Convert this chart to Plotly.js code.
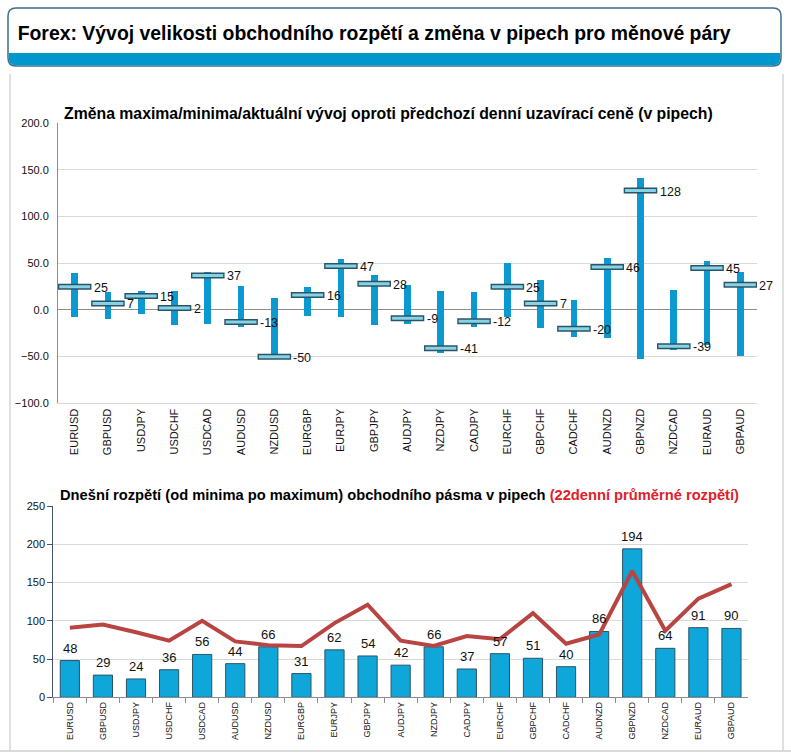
<!DOCTYPE html>
<html>
<head>
<meta charset="utf-8">
<script src="https://cdn.plot.ly/plotly-3.0.1.min.js"></script>
<style>html,body{margin:0;padding:0;background:#fff;}#chart{width:791px;height:753px;}</style>
</head>
<body>
<div id="chart"></div>
<script>
// ---- data ----
const pairs = ["EURUSD","GBPUSD","USDJPY","USDCHF","USDCAD","AUDUSD","NZDUSD","EURGBP","EURJPY","GBPJPY","AUDJPY","NZDJPY","CADJPY","EURCHF","GBPCHF","CADCHF","AUDNZD","GBPNZD","NZDCAD","EURAUD","GBPAUD"];
const dayHigh = [40,19,20,20,41,26,13,25,55,38,27,20,19,50,32,11,56,141,21,53,41];
const dayLow = [-8,-10,-4,-16,-15,-18,-53,-6,-7,-16,-15,-46,-18,-7,-19,-29,-30,-53,-43,-38,-49];
const current = [25,7,15,2,37,-13,-50,16,47,28,-9,-41,-12,25,7,-20,46,128,-39,45,27];
const todayRange = [48,29,24,36,56,44,66,31,62,54,42,66,37,57,51,40,86,194,64,91,90];
const avg22 = [91,95,85,74,100,73,68,67,97,121,74,67,80,76,110,70,82,165,87,129,148];
const topTickVals = [-100,-50,0,50,100,150,200];
const botTickVals = [0,50,100,150,200,250];

const W = 791, H = 753;
const px = v => v / W;           // x pixel -> paper
const py = v => 1 - v / H;       // y pixel -> paper

const font = "Liberation Sans, Arial, sans-serif";

const traces = [
  // range bars (low -> high)
  {type:"bar", x:pairs, y:dayHigh.map((h,i)=>h-dayLow[i]), base:dayLow, width:0.2,
   marker:{color:"#0b99d0"}, xaxis:"x", yaxis:"y", hoverinfo:"skip"},
  // current value caps: dark outline
  {type:"scatter", mode:"markers", x:pairs, y:current, xaxis:"x", yaxis:"y",
   marker:{symbol:"line-ew", size:24, line:{width:6, color:"#2b5566"}}, hoverinfo:"skip"},
  // current value caps: light fill
  {type:"scatter", mode:"markers", x:pairs, y:current, xaxis:"x", yaxis:"y",
   marker:{symbol:"line-ew", size:22, line:{width:3, color:"#86d3e8"}}, hoverinfo:"skip"},
  // today's range bars
  {type:"bar", x:pairs, y:todayRange, xaxis:"x2", yaxis:"y2", width:0.58,
   marker:{color:"#0fa6da", line:{color:"#2a5468", width:1}}, hoverinfo:"skip"},
  // 22-day average line
  {type:"scatter", mode:"lines", x:pairs, y:avg22, xaxis:"x2", yaxis:"y2",
   line:{color:"#b84542", width:4}, hoverinfo:"skip"},
  // anchor for pixel-coordinate decoration axis
  {type:"scatter", mode:"markers", x:[0], y:[0], xaxis:"x3", yaxis:"y3",
   marker:{opacity:0}, hoverinfo:"skip"}
];

const curLabels = pairs.map((p,i)=>({xref:"x", yref:"y", x:p, y:current[i], text:String(current[i]),
  xanchor:"left", yanchor:"middle", xshift:17, yshift:-1, showarrow:false,
  font:{family:font, size:12.5, color:"#111"}}));
const rangeLabels = pairs.map((p,i)=>({xref:"x2", yref:"y2", x:p, y:todayRange[i], text:String(todayRange[i]),
  xanchor:"center", yanchor:"bottom", yshift:3, showarrow:false,
  font:{family:font, size:13, color:"#111"}}));

const layout = {
  width:W, height:H, margin:{l:0,r:0,t:0,b:0},
  paper_bgcolor:"#fff", plot_bgcolor:"rgba(0,0,0,0)",
  showlegend:false, hovermode:false, bargap:0,
  font:{family:font, color:"#222"},
  xaxis:{domain:[px(58), px(757)], anchor:"y", type:"category", range:[-0.5,20.5],
    tickangle:-90, tickfont:{size:11, color:"#111"}, showgrid:false,
    showline:true, linecolor:"#d9d9d9", linewidth:1, ticks:"", zeroline:false, fixedrange:true},
  yaxis:{domain:[py(403.3), py(123.3)], anchor:"x", range:[-100,200],
    tickvals:topTickVals, tickformat:".1f", tickfont:{size:11, color:"#111"},
    gridcolor:"#d9d9d9", gridwidth:1, showline:true, linecolor:"#8c8c8c", linewidth:1,
    zeroline:true, zerolinecolor:"#8c8c8c", zerolinewidth:1, ticks:"", ticklabelstandoff:6, fixedrange:true},
  xaxis2:{domain:[px(53.3), px(748)], anchor:"y2", type:"category", range:[-0.5,20.5],
    tickangle:-90, tickfont:{size:9, color:"#111"}, showgrid:false,
    showline:true, linecolor:"#8c8c8c", linewidth:1, ticks:"outside", tickson:"boundaries",
    ticklen:5, tickcolor:"#8c8c8c", zeroline:false, fixedrange:true},
  yaxis2:{domain:[py(697.3), py(506)], anchor:"x2", range:[0,250],
    tickvals:botTickVals, tickfont:{size:11, color:"#111"},
    gridcolor:"#d9d9d9", gridwidth:1, showline:true, linecolor:"#44546a", linewidth:1,
    ticks:"outside", ticklen:5, tickcolor:"#44546a", zeroline:false, fixedrange:true},
  xaxis3:{domain:[0,1], anchor:"y3", range:[0,W], visible:false, fixedrange:true},
  yaxis3:{domain:[0,1], anchor:"x3", range:[H,0], visible:false, fixedrange:true},
  shapes:[
    // outer panel border
    {type:"line", xref:"x3", yref:"y3", x0:10, x1:10, y0:74, y1:751, line:{color:"#d6d6d6", width:1.5}, layer:"below"},
    {type:"line", xref:"x3", yref:"y3", x0:783, x1:783, y0:74, y1:751, line:{color:"#d6d6d6", width:1.5}, layer:"below"},
    {type:"line", xref:"x3", yref:"y3", x0:0, x1:791, y0:751, y1:751, line:{color:"#cfcfcf", width:1.5}, layer:"below"},
    // header box
    {type:"path", xref:"x3", yref:"y3", layer:"below",
     path:"M 16 8 L 773 8 Q 781 8 781 16 L 781 58 Q 781 66 773 66 L 16 66 Q 8 66 8 58 L 8 16 Q 8 8 16 8 Z",
     fillcolor:"#ffffff", line:{color:"#3b6f8e", width:1.5}},
    {type:"path", xref:"x3", yref:"y3", layer:"below",
     path:"M 8.8 53 L 780.2 53 L 780.2 58 Q 780.2 65.3 773 65.3 L 16 65.3 Q 8.8 65.3 8.8 58 Z",
     fillcolor:"#0097cc", line:{width:0}}
  ],
  annotations:[
    {xref:"x3", yref:"y3", x:373.5, y:33, xanchor:"center", yanchor:"middle", showarrow:false,
     text:"Forex: Vývoj velikosti obchodního rozpětí a změna v pipech pro měnové páry",
     font:{family:font, size:19.5, color:"#000", weight:"bold"}},
    {xref:"x3", yref:"y3", x:62, y:113, xanchor:"left", yanchor:"middle", showarrow:false,
     text:"<b>Změna maxima/minima/aktuální vývoj oproti předchozí denní uzavírací ceně (v pipech)</b>",
     font:{family:font, size:15.8, color:"#000"}},
    {xref:"x3", yref:"y3", x:58, y:495, xanchor:"left", yanchor:"middle", showarrow:false,
     text:"<b>Dnešní rozpětí (od minima po maximum) obchodního pásma v pipech <span style='color:#e0202a'>(22denní průměrné rozpětí)</span></b>",
     font:{family:font, size:14.7, color:"#000"}}
  ].concat(curLabels, rangeLabels)
};

Plotly.newPlot("chart", traces, layout, {displayModeBar:false, staticPlot:true}).then(gd => {
  gd.querySelectorAll("text.annotation-text").forEach(t => {
    if (t.textContent.indexOf("Forex:") === 0) {
      t.setAttribute("textLength", "713");
      t.setAttribute("lengthAdjust", "spacingAndGlyphs");
    }
  });
});
</script>
</body>
</html>
